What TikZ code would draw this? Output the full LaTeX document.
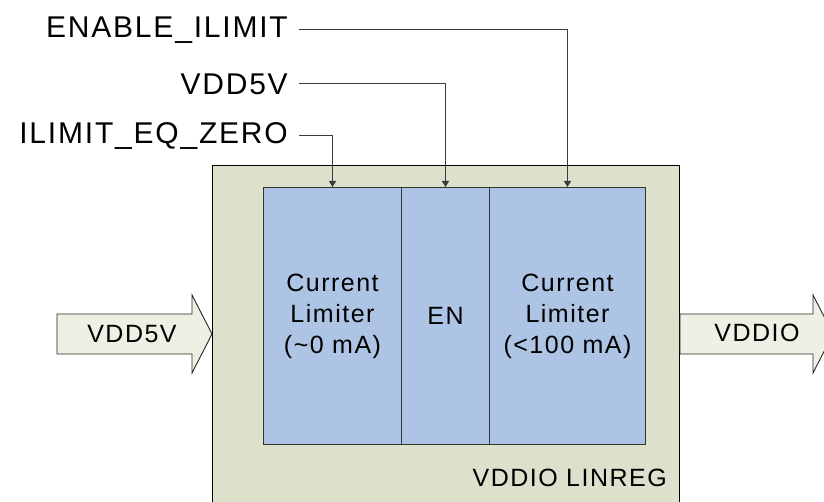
\documentclass[tikz,border=0pt]{standalone}
\usepackage{fontspec}
\setmainfont[LetterSpace=6]{Liberation Sans}
\usetikzlibrary{arrows.meta}
\definecolor{outerfill}{HTML}{DDE1CB}
\definecolor{blockfill}{HTML}{AEC4E4}
\definecolor{arrowfill}{HTML}{EFF0E5}
\definecolor{connc}{HTML}{3A3A3A}
\tikzset{
  blk/.style={draw=black!80, line width=1pt, fill=blockfill, minimum height=257pt,
    anchor=north west, inner sep=0pt, align=center,
    font=\fontsize{25}{31}\selectfont},
  lbl/.style={anchor=east, inner sep=11pt, font=\fontsize{30}{34}\selectfont},
  conn/.style={draw=connc, line width=1pt, -{Triangle[length=6pt,width=7pt]}},
  bigarrow/.style={draw=black!85, line width=0.9pt, fill=arrowfill},
  txt/.style={inner sep=0pt, font=\fontsize{25}{31}\selectfont}
}
\begin{document}
\begin{tikzpicture}[x=1pt,y=-1pt]
\useasboundingbox (0,0) rectangle (824,502);
\clip (0,0) rectangle (824,502);
% outer block
\node[draw=black, line width=1pt, fill=outerfill, anchor=north west, minimum width=467pt, minimum height=380pt, inner sep=0pt] (outer) at (212,165) {};
\node[txt, anchor=east] (lin) at (667,478) {VDDIO LINREG};
% inner blocks
\node[blk, minimum width=138pt] (b1) at (263,187) {Current\\Limiter\\(\textasciitilde0 mA)};
\node[blk, minimum width=88pt] (b2) at (401,187) {EN};
\node[blk, minimum width=156pt] (b3) at (489,187) {Current\\Limiter\\(<100 mA)};
% labels
\node[lbl] (l1) at (299,30) {ENABLE\_ILIMIT};
\node[lbl] (l2) at (299,84) {VDD5V};
\node[lbl] (l3) at (299,136) {ILIMIT\_EQ\_ZERO};
\draw[conn] (l1.east) -| (b3.north);
\draw[conn] (l2.east) -| (b2.north);
\draw[conn] (l3.east) -| (b1.north);
% big arrows
\draw[bigarrow] (57,314) -- (192,314) -- (192,295) -- (outer.west |- 0,334) -- (192,373) -- (192,354) -- (57,354) -- cycle;
\node[txt] (vin) at (132,334) {VDD5V};
\draw[bigarrow] (outer.east |- 0,314) -- (813,314) -- (813,295) -- (833,334) -- (813,373) -- (813,354) -- (outer.east |- 0,354) -- cycle;
\node[txt] (vout) at (757,333) {VDDIO};
\end{tikzpicture}
\end{document}
